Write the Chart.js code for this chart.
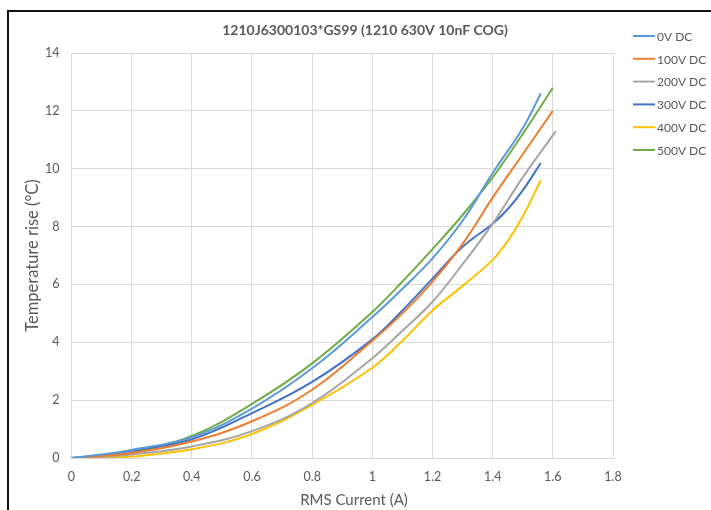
<!DOCTYPE html>
<html>
<head>
<meta charset="utf-8">
<script src="https://cdn.jsdelivr.net/npm/chart.js@4.4.1/dist/chart.umd.min.js"></script>
<style>
  html, body { margin: 0; padding: 0; background: #fff; }
  #wrap { position: relative; width: 711px; height: 510px; }
  #frame { position: absolute; left: 7px; top: 10px; right: 0; bottom: 0;
           border-left: 2px solid #111; border-top: 2px solid #111; pointer-events: none; }
</style>
</head>
<body>
<div id="wrap">
  <canvas id="chart" width="711" height="510"></canvas>
  <div id="frame"></div>
</div>
<script>
/* === Temperature rise vs RMS current — 1210 630V 10nF COG === */

const CHART_TITLE = '1210J6300103*GS99 (1210 630V 10nF COG)';
const X_TITLE = 'RMS Current (A)';
const Y_TITLE = 'Temperature rise (°C)';
const SERIES_LABELS = ['0V DC', '100V DC', '200V DC', '300V DC', '400V DC', '500V DC'];
const SERIES_COLORS = ['#5B9BD5', '#ED7D31', '#A5A5A5', '#4472C4', '#FFC000', '#70AD47'];

// courant RMS (A) / élévation de température (°C), une paire par série
const amps0V   = [0, 0.1, 0.2, 0.4, 0.6, 0.8, 1.0, 1.1, 1.2, 1.3, 1.4, 1.5, 1.56];
const rise0V   = [0, 0.12, 0.28, 0.72, 1.71, 3.1, 4.87, 5.85, 6.9, 8.2, 9.85, 11.4, 12.6];
const amps100V = [0, 0.1, 0.2, 0.4, 0.6, 0.8, 1.0, 1.1, 1.2, 1.3, 1.4, 1.5, 1.6];
const rise100V = [0, 0.07, 0.17, 0.57, 1.27, 2.36, 4.05, 5.0, 6.1, 7.4, 9.0, 10.5, 12.0];
const amps200V = [0, 0.1, 0.2, 0.4, 0.6, 0.8, 1.0, 1.1, 1.2, 1.3, 1.4, 1.5, 1.61];
const rise200V = [0, 0.04, 0.12, 0.4, 0.93, 1.9, 3.45, 4.4, 5.4, 6.7, 8.1, 9.7, 11.3];
const amps300V = [0, 0.1, 0.2, 0.4, 0.6, 0.8, 1.0, 1.1, 1.2, 1.3, 1.4, 1.45, 1.5, 1.56];
const rise300V = [0, 0.1, 0.25, 0.65, 1.55, 2.63, 4.1, 5.1, 6.2, 7.3, 8.1, 8.6, 9.25, 10.2];
const amps400V = [0, 0.1, 0.2, 0.4, 0.6, 0.8, 1.0, 1.1, 1.2, 1.3, 1.4, 1.45, 1.5, 1.56];
const rise400V = [0, 0.01, 0.05, 0.3, 0.83, 1.84, 3.12, 4.05, 5.1, 5.95, 6.85, 7.5, 8.35, 9.6];
const amps500V = [0, 0.1, 0.2, 0.4, 0.6, 0.8, 1.0, 1.1, 1.2, 1.3, 1.4, 1.5, 1.6];
const rise500V = [0, 0.03, 0.17, 0.76, 1.87, 3.27, 5.05, 6.1, 7.22, 8.4, 9.7, 11.2, 12.8];

const X_TICKS = ['0', '0.2', '0.4', '0.6', '0.8', '1', '1.2', '1.4', '1.6', '1.8'];
const Y_TICKS = ['0', '2', '4', '6', '8', '10', '12', '14'];

const AMPS = [amps0V, amps100V, amps200V, amps300V, amps400V, amps500V];
const RISE = [rise0V, rise100V, rise200V, rise300V, rise400V, rise500V];

const FONT = "Lato, 'Open Sans', sans-serif";
const TEXT = '#595959';
const GRID = '#D9D9D9';

// Titres (graphique + axes) et légende à droite, placés comme dans Excel
const excelDecor = {
  id: 'excelDecor',
  afterDraw(chart) {
    const ctx = chart.ctx;
    const area = chart.chartArea;
    ctx.save();
    ctx.fillStyle = TEXT;
    ctx.textAlign = 'center';
    ctx.textBaseline = 'middle';
    ctx.font = 'bold 14px ' + FONT;
    ctx.fillText(CHART_TITLE, 365, 30);

    ctx.font = '15px ' + FONT;
    ctx.fillText(X_TITLE, 354, 500);

    ctx.save();
    ctx.translate(33, (area.top + area.bottom) / 2);
    ctx.rotate(-Math.PI / 2);
    ctx.font = '16.5px ' + FONT;
    ctx.fillText(Y_TITLE, 0, 0);
    ctx.restore();

    ctx.textAlign = 'left';
    ctx.font = '12px ' + FONT;
    chart.data.datasets.forEach((ds, i) => {
      const y = 36 + i * 22.8;
      ctx.strokeStyle = ds.borderColor;
      ctx.lineWidth = 2;
      ctx.beginPath();
      ctx.moveTo(633, y);
      ctx.lineTo(655, y);
      ctx.stroke();
      ctx.fillText(ds.label, 657, y + 1);
    });
    ctx.restore();
  }
};

const datasets = SERIES_LABELS.map((label, i) => ({
  label: label,
  data: AMPS[i].map((x, k) => ({ x: x, y: RISE[i][k] })),
  borderColor: SERIES_COLORS[i],
  backgroundColor: SERIES_COLORS[i],
  borderWidth: 2,
  pointRadius: 0,
  showLine: true,
  tension: 0.4
}));

new Chart(document.getElementById('chart'), {
  type: 'scatter',
  data: { datasets: datasets },
  options: {
    responsive: false,
    animation: false,
    layout: { padding: { left: 33, right: 98, top: 53, bottom: 15 } },
    plugins: {
      legend: { display: false },
      tooltip: { enabled: false },
      title: { display: false }
    },
    scales: {
      x: {
        type: 'linear',
        min: 0, max: 1.8,
        grid: { color: GRID, drawTicks: false },
        border: { color: GRID },
        ticks: {
          stepSize: 0.2, padding: 11, color: TEXT,
          font: { family: FONT, size: 12.5 },
          callback: (v, i) => X_TICKS[i]
        }
      },
      y: {
        min: 0, max: 14,
        grid: { color: GRID, drawTicks: false },
        border: { display: false },
        ticks: {
          stepSize: 2, padding: 12, color: TEXT,
          font: { family: FONT, size: 12.5 },
          callback: (v, i) => Y_TICKS[i]
        }
      }
    }
  },
  plugins: [excelDecor]
});
</script>
</body>
</html>
